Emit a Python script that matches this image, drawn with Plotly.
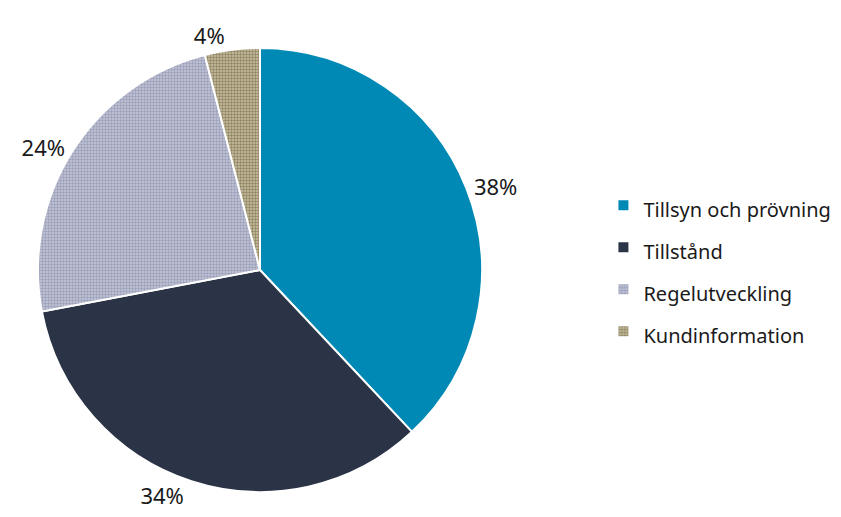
import plotly.graph_objects as go

categories = ["Tillsyn och prövning", "Tillstånd", "Regelutveckling", "Kundinformation"]
shares = [38, 34, 24, 4]

_BG = ["#0089b5", "#2b3446", "#c6c8d8", "#cbc3a3"]
_FG = ["#0089b5", "#2b3446", "#9a9fba", "#8e8463"]
_INK = "#1a1a1a"
_FONT = "Noto Sans, Open Sans, sans-serif"

fig = go.Figure(
    go.Pie(
        labels=[f'<span style="font-size:20px">{c}</span>' for c in categories],
        values=shares,
        sort=False,
        direction="clockwise",
        rotation=0,
        textinfo="percent",
        texttemplate="%{percent:.0%}",
        textposition="outside",
        outsidetextfont=dict(size=22, color=_INK, family=_FONT),
        marker=dict(
            colors=_BG,
            line=dict(color="white", width=2),
            pattern=dict(shape=["", "", ".", "."], fgcolor=_FG, bgcolor=_BG, size=3, solidity=0.5),
        ),
        domain=dict(x=[30 / 841, 474 / 841], y=[33 / 517, 477 / 517]),
        hovertemplate="%{customdata}: %{percent:.0%}<extra></extra>",
        customdata=categories,
    )
)

fig.update_layout(
    width=841,
    height=517,
    margin=dict(l=0, r=0, t=0, b=0),
    paper_bgcolor="white",
    plot_bgcolor="white",
    font=dict(family=_FONT, color=_INK),
    showlegend=True,
    legend=dict(
        x=0.708, y=0.669, xanchor="left", yanchor="top",
        font=dict(size=30, color=_INK, family=_FONT),
        itemclick=False,
    ),
)

fig.write_html("out.html")
